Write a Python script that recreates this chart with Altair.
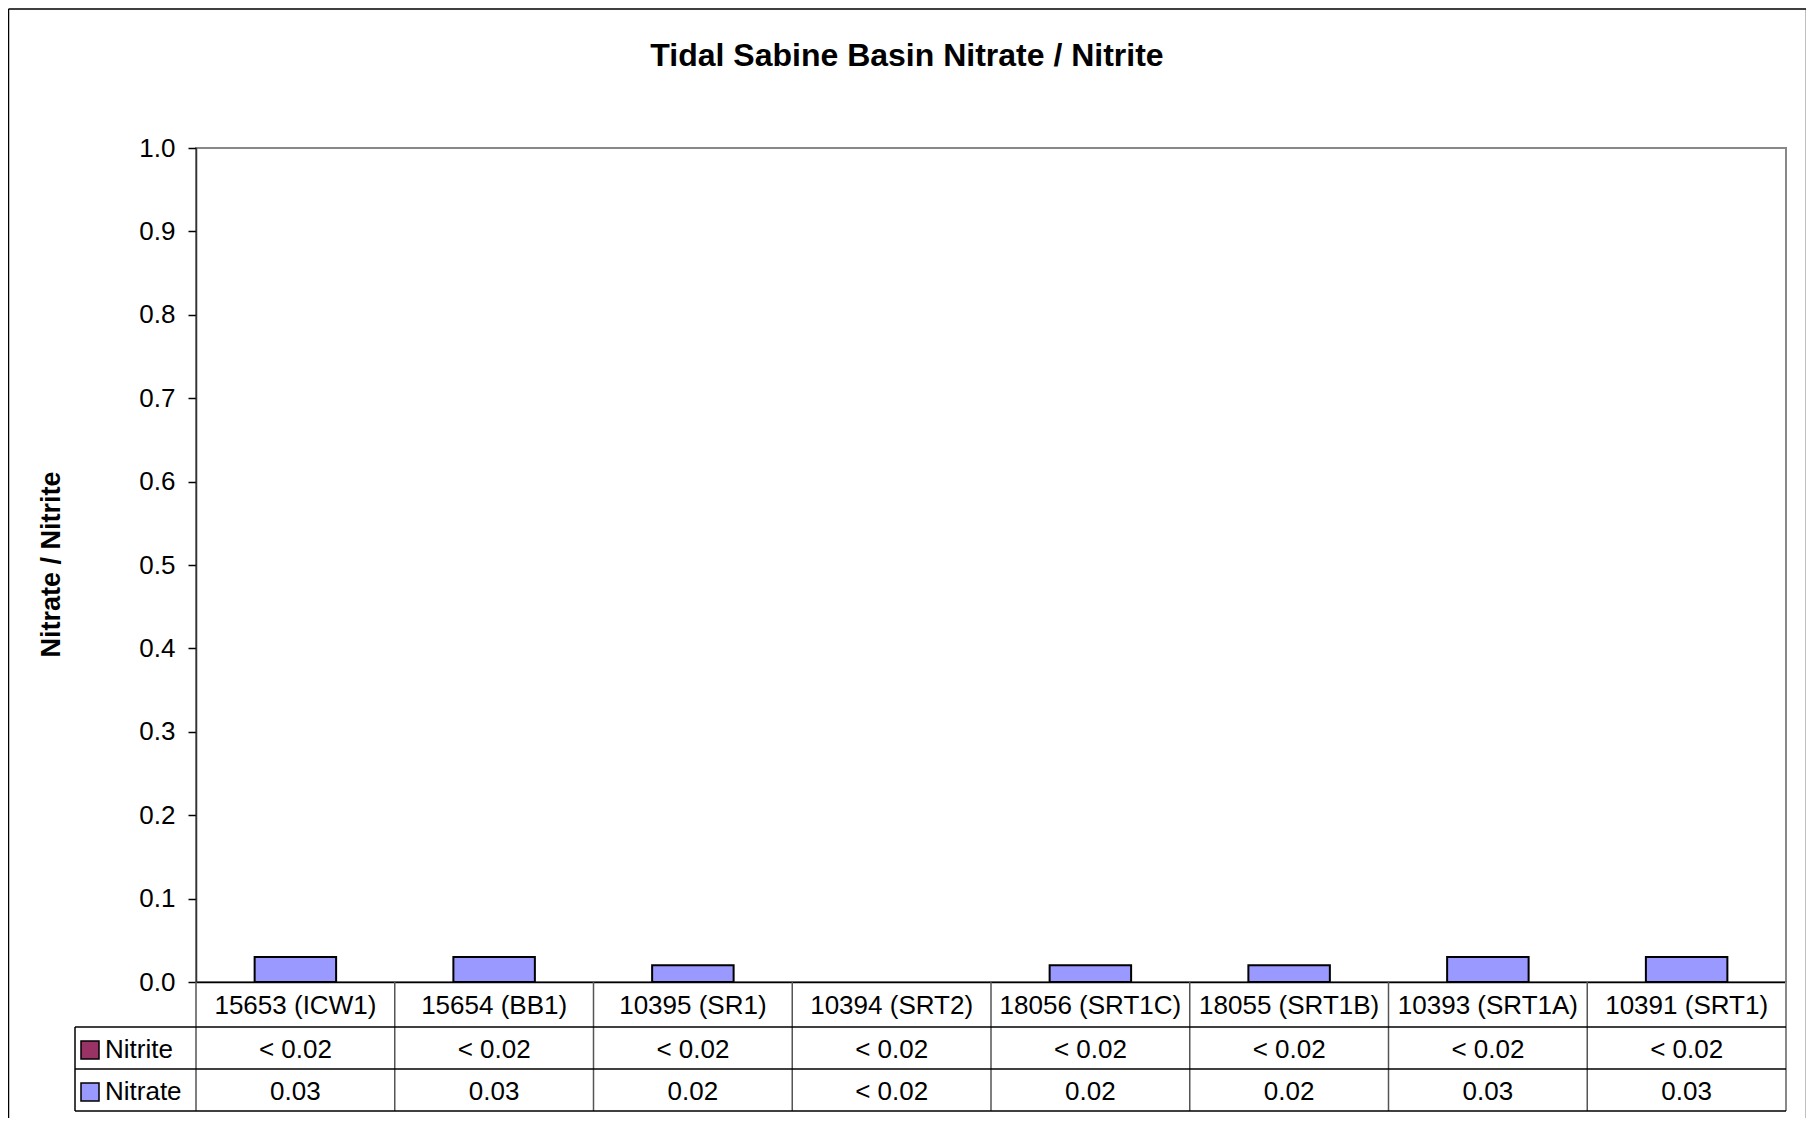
import altair as alt
import pandas as pd

# ---- data ----
categories = ["15653 (ICW1)", "15654 (BB1)", "10395 (SR1)", "10394 (SRT2)",
              "18056 (SRT1C)", "18055 (SRT1B)", "10393 (SRT1A)", "10391 (SRT1)"]
nitrate_values = [0.03, 0.03, 0.02, None, 0.02, 0.02, 0.03, 0.03]
nitrate_labels = ["0.03", "0.03", "0.02", "< 0.02", "0.02", "0.02", "0.03", "0.03"]
nitrite_labels = ["< 0.02"] * 8
series = ["Nitrite", "Nitrate"]
series_colors = ["#993366", "#9999FF"]
y_ticks = [0.0, 0.1, 0.2, 0.3, 0.4, 0.5, 0.6, 0.7, 0.8, 0.9, 1.0]
title_text = "Tidal Sabine Basin Nitrate / Nitrite"
y_title = "Nitrate / Nitrite"

FONT = "Liberation Sans"
W, H = 1590, 834

df = pd.DataFrame({
    "cat": categories,
    "nitrate": nitrate_values,
    "nitrate_label": nitrate_labels,
    "nitrite_label": nitrite_labels,
})
one = pd.DataFrame({"a": [0]})

x_scale = alt.Scale(domain=categories, paddingInner=0, paddingOuter=0)

x_axis = alt.Axis(title=None, ticks=False, tickSize=0, labelAngle=0, labelFont=FONT,
                  labelFontSize=26, labelColor="black", labelPadding=23,
                  labelBaseline="middle", labelLimit=400, labelOverlap=False,
                  domainColor="black", domainWidth=1.5, grid=False)
y_axis = alt.Axis(values=y_ticks, format=".1f", labelFont=FONT, labelFontSize=26,
                  labelColor="black", labelPadding=13, tickSize=8, tickColor="black",
                  tickWidth=1.5, domainColor="#333", domainWidth=1.5, grid=False,
                  title=y_title, titleFont=FONT, titleFontSize=27, titleFontWeight="bold",
                  titleColor="black", titleX=-145, titleY=H / 2 - 1, titleAngle=270,
                  titleAlign="center", titleBaseline="middle")

bars = alt.Chart(df).mark_bar(
    color=series_colors[1], stroke="black", strokeWidth=2,
    width=alt.RelativeBandSize(0.41)
).encode(
    x=alt.X("cat:N", sort=categories, scale=x_scale, axis=x_axis),
    y=alt.Y("nitrate:Q", scale=alt.Scale(domain=[0, 1], nice=False), axis=y_axis),
)

# table: vertical lines at category boundaries
vlines = alt.Chart(df).mark_rule(color="#555", strokeWidth=1.5).encode(
    x=alt.X("cat:N", sort=categories, bandPosition=0),
    y=alt.value(H), y2=alt.value(H + 129),
)
right_edge = alt.Chart(one).mark_rule(color="#888", strokeWidth=2).encode(
    x=alt.value(W), y=alt.value(H), y2=alt.value(H + 129))
legend_edge = alt.Chart(one).mark_rule(color="black", strokeWidth=1.5).encode(
    x=alt.value(-121), y=alt.value(H + 45), y2=alt.value(H + 129))
hlines = [
    alt.Chart(one).mark_rule(color="black", strokeWidth=1.5).encode(
        x=alt.value(-121), x2=alt.value(W), y=alt.value(H + dy))
    for dy in (45, 87, 129)
]

nitrite_text = alt.Chart(df).mark_text(font=FONT, fontSize=26, color="black",
                                       baseline="middle").encode(
    x=alt.X("cat:N", sort=categories), y=alt.value(H + 68), text="nitrite_label:N")
nitrate_text = alt.Chart(df).mark_text(font=FONT, fontSize=26, color="black",
                                       baseline="middle").encode(
    x=alt.X("cat:N", sort=categories), y=alt.value(H + 110), text="nitrate_label:N")

legend_layers = []
for name, col, yy in zip(series, series_colors, (H + 68, H + 110)):
    sd = pd.DataFrame({"series": [name]})
    legend_layers.append(
        alt.Chart(sd).mark_square(size=324, stroke="black", strokeWidth=1.5,
                                  opacity=1, fill=col).encode(
            x=alt.value(-106), y=alt.value(yy)))
    legend_layers.append(
        alt.Chart(sd).mark_text(font=FONT, fontSize=26, color="black", align="left",
                                baseline="middle").encode(
            x=alt.value(-91), y=alt.value(yy), text="series:N"))

title = alt.Chart(pd.DataFrame({"t": [title_text]})).mark_text(
    font=FONT, fontSize=32, fontWeight="bold", color="black",
    align="center", baseline="alphabetic").encode(
    x=alt.value(711), y=alt.value(-82), text="t:N")

# outer chart border
border = [
    alt.Chart(one).mark_rule(color="black", strokeWidth=1.5).encode(
        x=alt.value(-187.5), y=alt.value(-139), y2=alt.value(980)),
    alt.Chart(one).mark_rule(color="black", strokeWidth=1.5).encode(
        x=alt.value(-187.5), x2=alt.value(1610.5), y=alt.value(-139)),
    alt.Chart(one).mark_rule(color="black", strokeWidth=1.5).encode(
        x=alt.value(1610.5), y=alt.value(-139), y2=alt.value(980)),
]

chart = alt.layer(
    bars, vlines, right_edge, legend_edge, *hlines, nitrite_text, nitrate_text,
    *legend_layers, title, *border
).properties(
    width=W, height=H,
    padding={"left": 188, "top": 140, "right": 20, "bottom": 136},
    autosize=alt.AutoSizeParams(type="none"),
    background="white",
).configure_view(stroke="#888", strokeWidth=2)

chart.save("out.html", embed_options={"renderer": "svg", "actions": False})
